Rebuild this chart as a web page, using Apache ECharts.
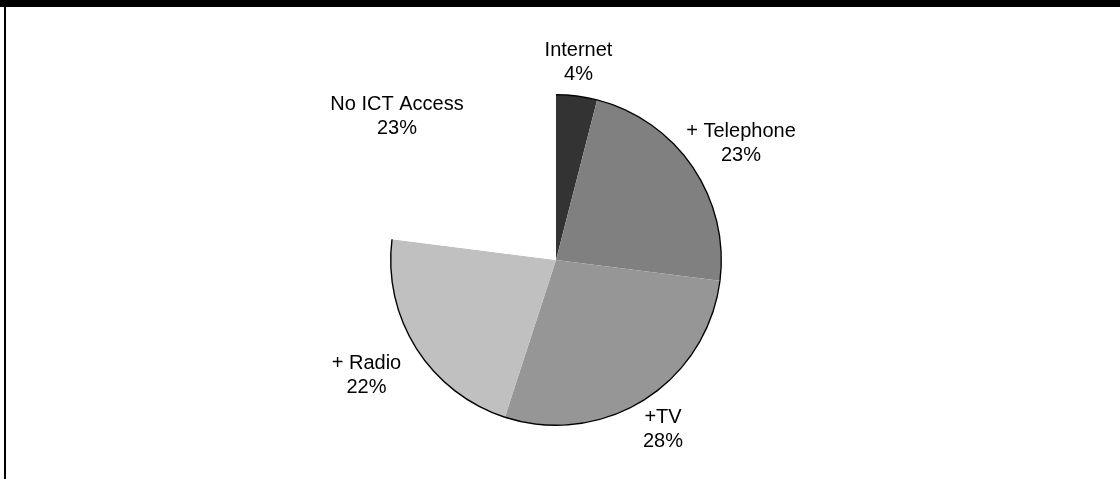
<!DOCTYPE html>
<html>
<head>
<meta charset="utf-8">
<script src="https://cdn.jsdelivr.net/npm/echarts@6/dist/echarts.min.js"></script>
<style>
html,body{margin:0;padding:0;background:#fff;}
#chart{width:1120px;height:479px;}
</style>
</head>
<body>
<div id="chart"></div>
<script>
// Data
var categories = ['Internet', '+ Telephone', '+TV', '+ Radio', 'No ICT Access'];
var shares = [4, 23, 28, 22, 23];

// Styles
var sliceColors = ['#333333', '#808080', '#969696', '#c0c0c0', '#ffffff'];
var outlineColors = ['#000000', '#000000', '#000000', '#000000', 'rgba(0,0,0,0)'];
var labelCenters = [[578.5, 62.5], [741, 143], [663, 429], [366.5, 375.5], [397, 116]];

var chart = echarts.init(document.getElementById('chart'), null, {renderer: 'canvas'});

var mainData = categories.map(function (c, i) {
  return {name: c, value: shares[i], itemStyle: {color: sliceColors[i]}};
});
var ringData = categories.map(function (c, i) {
  return {name: c, value: shares[i], itemStyle: {color: outlineColors[i]}};
});

var option = {
  animation: false,
  backgroundColor: '#ffffff',
  graphic: [
    {type: 'rect', shape: {x: 0, y: 0, width: 1120, height: 7}, style: {fill: '#000'}, silent: true},
    {type: 'rect', shape: {x: 4, y: 0, width: 2, height: 479}, style: {fill: '#000'}, silent: true}
  ],
  series: [
    {
      type: 'pie',
      center: [556, 260],
      radius: [0, 165],
      startAngle: 90,
      clockwise: true,
      silent: true,
      itemStyle: {borderWidth: 0},
      label: {
        show: true,
        position: 'outside',
        formatter: '{b}\n{c}%',
        fontFamily: 'Liberation Sans, Arial, sans-serif',
        fontSize: 20,
        lineHeight: 24,
        color: '#000',
        align: 'center'
      },
      labelLine: {show: false},
      labelLayout: function (params) {
        var p = labelCenters[params.dataIndex];
        return {x: p[0], y: p[1], align: 'center', verticalAlign: 'middle', hideOverlap: false};
      },
      data: mainData
    },
    {
      type: 'pie',
      center: [556, 260],
      radius: [164.6, 166],
      startAngle: 90,
      clockwise: true,
      silent: true,
      itemStyle: {borderWidth: 0},
      label: {show: false},
      labelLine: {show: false},
      data: ringData
    }
  ]
};
chart.setOption(option);
</script>
</body>
</html>
